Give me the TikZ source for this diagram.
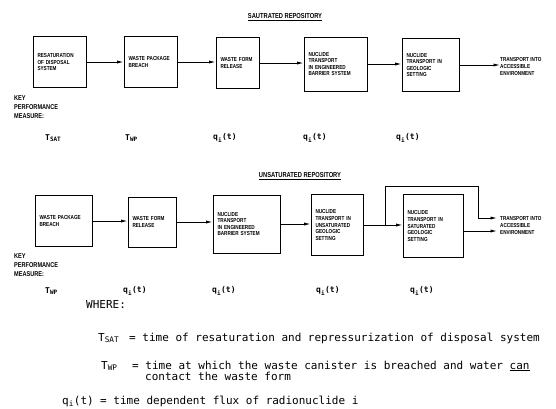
\documentclass[tikz,border=0pt]{standalone}
\usepackage{fontspec}
\setmainfont{Liberation Sans}
\newfontfamily\narrowsans[FakeStretch=0.8]{Liberation Sans}
\newfontfamily\tw{DejaVu Sans Mono}
\usetikzlibrary{arrows.meta}
\tikzset{
 blk/.style={draw, line width=1pt, inner xsep=4.5pt, inner ysep=2pt, align=left,
   font=\narrowsans\bfseries\fontsize{5.8}{6.6}\selectfont},
 outlbl/.style={inner sep=0, align=left, anchor=west,
   font=\narrowsans\bfseries\fontsize{5.8}{7}\selectfont},
 flow/.style={line width=0.9pt, -{Latex[length=6.5pt,width=3.2pt]}},
 kpm/.style={inner sep=0, align=left, anchor=north west,
   font=\narrowsans\bfseries\fontsize{7}{9}\selectfont},
 msr/.style={inner sep=0, anchor=west, font=\tw\bfseries\fontsize{8}{9}\selectfont},
 ttl/.style={inner sep=0, font=\narrowsans\bfseries\fontsize{7.2}{8}\selectfont},
 defn/.style={inner sep=0, anchor=base west, font=\tw\fontsize{11}{11}\selectfont},
}
\begin{document}
\begin{tikzpicture}[x=1pt,y=-1pt]
\useasboundingbox (0,0) rectangle (556,408);

% ---------- saturated repository ----------
\node[ttl] (title1) at (285,17) {\underline{SAUTRATED REPOSITORY}};

\node[blk, text width=44pt, minimum height=51pt] (t1) at (59.5,62) {RESATURATION\\OF DISPOSAL\\SYSTEM};
\node[blk, text width=44pt, minimum height=51pt] (t2) at (150.5,62) {WASTE PACKAGE\\BREACH};
\node[blk, text width=34pt, minimum height=51pt] (t3) at (237.5,63) {WASTE FORM\\RELEASE};
\node[blk, text width=54pt, minimum height=54pt] (t4) at (335.5,64) {NUCLIDE\\TRANSPORT\\IN ENGINEERED\\BARRIER SYSTEM};
\node[blk, text width=48pt, minimum height=53pt] (t5) at (430.5,65) {NUCLIDE\\TRANSPORT IN\\GEOLOGIC\\SETTING};
\node[outlbl] (tout) at (500,66) {TRANSPORT INTO\\ACCESSIBLE\\ENVIRONMENT};

\draw[flow] (t1.east) -- (t1.east -| t2.west);
\draw[flow] (t2.east) -- (t2.east -| t3.west);
\draw[flow] (t3.east) -- (t3.east -| t4.west);
\draw[flow] (t4.east) -- (t4.east -| t5.west);
\draw[flow] (t5.east) -- (t5.east -| tout.west);

\node[kpm] (key1) at (14,95) {KEY\\PERFORMANCE\\MEASURE:};

\node[msr] (m11) at (45,138) {T\textsubscript{SAT}};
\node[msr] (m12) at (125,138) {T\textsubscript{WP}};
\node[msr] (m13) at (213,138) {q\textsubscript{i}(t)};
\node[msr] (m14) at (303,138) {q\textsubscript{i}(t)};
\node[msr] (m15) at (396,138) {q\textsubscript{i}(t)};

% ---------- unsaturated repository ----------
\node[ttl] (title2) at (300,176) {\underline{UNSATURATED REPOSITORY}};

\node[blk, text width=48pt, minimum height=51pt] (u1) at (63.5,221) {WASTE PACKAGE\\BREACH};
\node[blk, text width=39pt, minimum height=50pt] (u2) at (152,222) {WASTE FORM\\RELEASE};
\node[blk, text width=58pt, minimum height=58pt] (u3) at (246.5,224) {NUCLIDE\\TRANSPORT\\IN ENGINEERED\\BARRIER SYSTEM};
\node[blk, text width=43pt, minimum height=61pt] (u4) at (337,225) {NUCLIDE\\TRANSPORT IN\\UNSATURATED\\GEOLOGIC\\SETTING};
\node[blk, text width=51pt, minimum height=63pt] (u5) at (433,226) {NUCLIDE\\TRANSPORT IN\\SATURATED\\GEOLOGIC\\SETTING};
\node[outlbl] (uout) at (500,225) {TRANSPORT INTO\\ACCESSIBLE\\ENVIRONMENT};

\draw[flow] (u1.east) -- (u1.east -| u2.west);
\draw[flow] (u2.east) -- (u2.east -| u3.west);
\draw[flow] (u3.east) -- (u3.east -| u4.west);
\draw[flow] (u4.east) -- (u4.east -| u5.west);
\coordinate (j) at (385,225);
\coordinate (bt) at (478,186);
\coordinate (ua) at (497,218);
\coordinate (ub) at (497,231);
\draw[flow] (j) |- (bt) |- (ua);
\draw[flow] (u5.east |- ub) -- (ub);

\node[kpm] (key2) at (14,253) {KEY\\PERFORMANCE\\MEASURE:};

\node[msr] (m21) at (45,291) {T\textsubscript{WP}};
\node[msr] (m22) at (123,291) {q\textsubscript{i}(t)};
\node[msr] (m23) at (212,291) {q\textsubscript{i}(t)};
\node[msr] (m24) at (316,291) {q\textsubscript{i}(t)};
\node[msr] (m25) at (410,291) {q\textsubscript{i}(t)};

% ---------- legend ----------
\node[defn] (where) at (86,308) {WHERE:};
\node[defn] (s1) at (98,341) {T\textsubscript{SAT}};
\node[defn] (d1) at (129,341) {= time of resaturation and repressurization of disposal system};
\node[defn] (s2) at (101,369) {T\textsubscript{WP}};
\node[defn] (d2) at (132,369) {= time at which the waste canister is breached and water \underline{can}};
\node[defn] (d2b) at (145,380) {contact the waste form};
\node[defn] (s3) at (62,404) {q\textsubscript{i}(t)};
\node[defn] (d3) at (100,404) {= time dependent flux of radionuclide i};
\end{tikzpicture}
\end{document}
